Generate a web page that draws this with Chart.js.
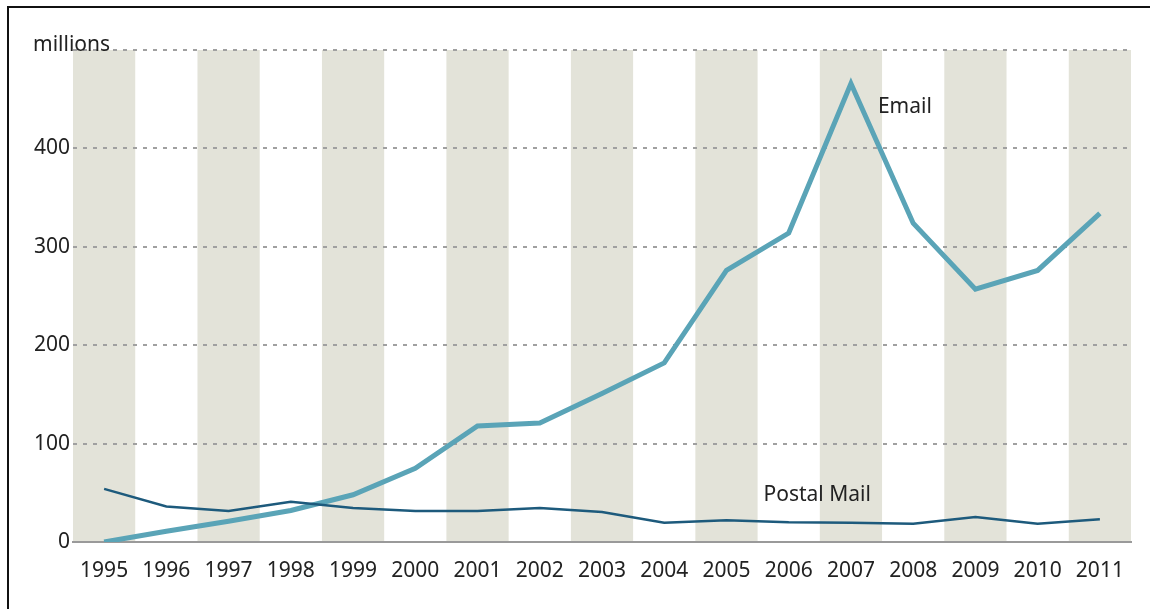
<!DOCTYPE html>
<html>
<head>
<meta charset="utf-8">
<script src="https://cdn.jsdelivr.net/npm/chart.js@4/dist/chart.umd.min.js"></script>
<style>
  html, body { margin: 0; padding: 0; background: #fff; }
  #wrap { position: relative; width: 1150px; height: 609px; overflow: hidden; }
  #frame { position: absolute; left: 7px; top: 6px; width: 1200px; height: 700px; border-left: 2px solid #111; border-top: 2px solid #111; pointer-events: none; }
  canvas { position: absolute; left: 0; top: 0; }
</style>
</head>
<body>
<div id="wrap">
  <canvas id="c" width="1150" height="609"></canvas>
  <div id="frame"></div>
</div>
<script>
const years = ['1995','1996','1997','1998','1999','2000','2001','2002','2003','2004','2005','2006','2007','2008','2009','2010','2011'];
const emailValues = [0, 11, 21, 32, 48, 75, 118, 121, 151, 182, 276, 314, 466, 324, 257, 276, 334];
const postalValues = [54, 36, 31.5, 41, 34.5, 31.5, 31.5, 34.5, 30.5, 19.5, 22, 20, 19.5, 18.5, 25.5, 18.5, 23];
const yTicks = [0, 100, 200, 300, 400, 500];
const unitLabel = 'millions';
const seriesLabels = ['Email', 'Postal Mail'];

const FONT = '"Noto Sans", sans-serif';
const FSIZE = 21;

const bandsPlugin = {
  id: 'bands',
  beforeDraw(chart) {
    const { ctx, scales } = chart;
    const x = scales.x;
    const y = scales.y;
    const w = (x.getPixelForValue(1) - x.getPixelForValue(0));
    ctx.save();
    ctx.fillStyle = '#e3e3d9';
    for (let i = 0; i < years.length; i += 2) {
      const cx = x.getPixelForValue(i);
      ctx.fillRect(cx - w / 2, y.getPixelForValue(500), w, y.getPixelForValue(0) - y.getPixelForValue(500));
    }
    ctx.restore();
  },
  afterDraw(chart) {
    const { ctx, scales } = chart;
    const x = scales.x;
    const y = scales.y;
    ctx.save();
    ctx.fillStyle = '#222';
    ctx.font = FSIZE + 'px ' + FONT;
    ctx.textBaseline = 'middle';
    ctx.textAlign = 'left';
    ctx.fillText(unitLabel, 33, y.getPixelForValue(500) - 5);
    ctx.fillText(seriesLabels[0], x.getPixelForValue(12) + 27, y.getPixelForValue(442));
    ctx.fillText(seriesLabels[1], x.getPixelForValue(10) + 37, y.getPixelForValue(48));
    ctx.restore();
  }
};

new Chart(document.getElementById('c'), {
  type: 'line',
  data: {
    labels: years,
    datasets: [
      {
        label: seriesLabels[1],
        data: postalValues,
        borderColor: '#1d5a7c',
        borderWidth: 2.5,
        pointRadius: 0,
        tension: 0,
        fill: false
      },
      {
        label: seriesLabels[0],
        data: emailValues,
        borderColor: '#5aa4b7',
        borderWidth: 5,
        pointRadius: 0,
        tension: 0,
        fill: false,
        borderJoinStyle: 'miter'
      }
    ]
  },
  options: {
    responsive: false,
    animation: false,
    layout: { padding: { left: 0, right: 19, top: 50, bottom: 0 } },
    plugins: { legend: { display: false }, tooltip: { enabled: false } },
    scales: {
      x: {
        offset: true,
        grid: { display: false, drawTicks: false },
        border: { display: true, color: '#9a9a9a', width: 2 },
        ticks: { color: '#222', font: { family: FONT, size: FSIZE }, padding: 16, maxRotation: 0, autoSkip: false },
        afterFit(scale) { scale.height = 67; }
      },
      y: {
        min: 0,
        max: 500,
        afterBuildTicks(scale) { scale.ticks = yTicks.map(v => ({ value: v })); },
        grid: { color: '#a0a0a0', lineWidth: 2, drawTicks: false },
        border: { display: false, dash: [4, 6] },
        ticks: {
          color: '#222',
          font: { family: FONT, size: FSIZE },
          padding: 3,
          callback: (v) => (v === 500 ? '' : String(v))
        },
        afterFit(scale) { scale.width = 73; }
      }
    }
  },
  plugins: [bandsPlugin]
});
</script>
</body>
</html>
